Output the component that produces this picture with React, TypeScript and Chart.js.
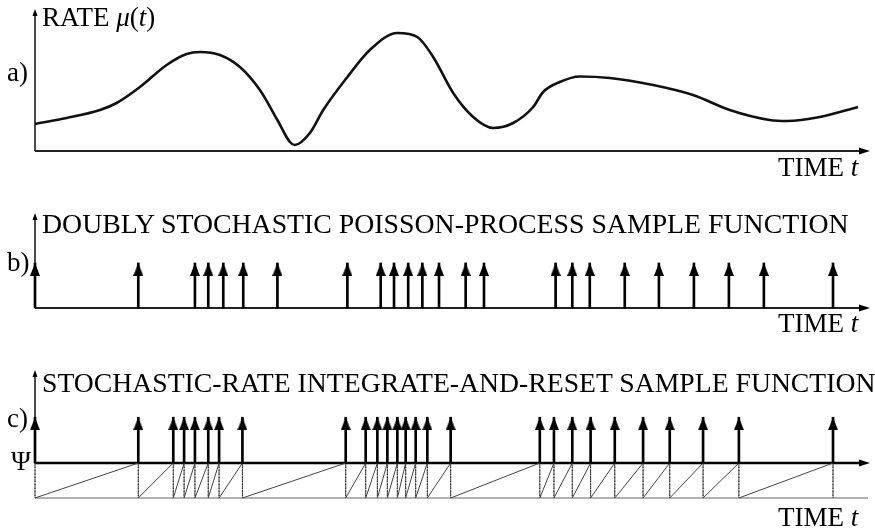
import React, { useEffect, useRef } from 'react';
import { Chart, registerables } from 'chart.js';

Chart.register(...registerables);

// ---------------- data ----------------
const T_MIN = 0;
const T_MAX = 10;

// a) rate mu(t)
const RATE_MAX = 14.2;
const rateTimes = [0, 0.38, 0.78, 0.98, 1.26, 1.58, 1.82, 1.98, 2.22, 2.46, 2.7, 2.91, 3.06, 3.12, 3.3, 3.46, 3.75, 4.02, 4.35, 4.59, 4.78, 5.02, 5.26, 5.5, 5.74, 5.98, 6.1, 6.3, 6.54, 6.9, 7.42, 7.9, 8.34, 8.82, 9.03, 9.42, 9.88];
const rateValues = [2.7, 3.3, 4.1, 4.8, 6.4, 8.6, 9.7, 9.9, 9.6, 8.4, 6.1, 3.1, 0.9, 0.6, 1.8, 4.1, 7.4, 10.1, 11.8, 11.4, 9.4, 5.8, 3.4, 2.3, 2.8, 4.4, 5.9, 6.9, 7.45, 7.3, 6.6, 5.6, 4.1, 3.1, 3.0, 3.4, 4.4];

// b) doubly stochastic Poisson process event times
const poissonTimes = [0, 1.24, 1.92, 2.08, 2.26, 2.5, 2.91, 3.75, 4.15, 4.31, 4.48, 4.65, 4.85, 5.17, 5.39, 6.25, 6.45, 6.66, 7.08, 7.49, 7.91, 8.33, 8.75, 9.58];
const POISSON_MARK = 1;
const POISSON_Y_MAX = 2.11;

// c) integrate-and-reset event times
const resetTimes = [0, 1.24, 1.66, 1.79, 1.92, 2.08, 2.21, 2.49, 3.73, 3.97, 4.11, 4.23, 4.35, 4.45, 4.57, 4.71, 4.99, 6.06, 6.23, 6.45, 6.67, 6.96, 7.3, 7.62, 8.02, 8.45, 9.58];
const PSI = 1;
const RESET_MARK = 2.31;
const RESET_Y_MAX = 3.66;

// ---------------- drawing helpers ----------------
const FONT = '"Liberation Serif", "Times New Roman", serif';

function arrowHeadImage(w: number, h: number) {
  const c = document.createElement('canvas');
  c.width = w;
  c.height = h * 2;
  const g = c.getContext('2d')!;
  g.fillStyle = '#000';
  g.beginPath();
  g.moveTo(w / 2, h);
  g.lineTo(w, 2 * h);
  g.lineTo(0, 2 * h);
  g.closePath();
  g.fill();
  return c;
}

function arrowUp(ctx: CanvasRenderingContext2D, x: number, y: number, len: number, half: number) {
  ctx.beginPath();
  ctx.moveTo(x, y);
  ctx.lineTo(x + half, y + len);
  ctx.lineTo(x - half, y + len);
  ctx.closePath();
  ctx.fill();
}
function arrowRight(ctx: CanvasRenderingContext2D, x: number, y: number, len: number, half: number) {
  ctx.beginPath();
  ctx.moveTo(x, y);
  ctx.lineTo(x - len, y - half);
  ctx.lineTo(x - len, y + half);
  ctx.closePath();
  ctx.fill();
}
function seg(ctx: CanvasRenderingContext2D, x1: number, y1: number, x2: number, y2: number) {
  ctx.beginPath();
  ctx.moveTo(x1, y1);
  ctx.lineTo(x2, y2);
  ctx.stroke();
}

const axesPlugin = {
  id: 'figAxes',
  beforeDatasetsDraw(chart: any, _args: any, opts: any) {
    const { ctx, chartArea, scales } = chart;
    const xs = scales.x;
    const ys = scales.y;
    const left = xs.getPixelForValue(T_MIN);
    const right = xs.getPixelForValue(T_MAX);
    ctx.save();
    ctx.fillStyle = '#000';
    if (opts.kind === 'c') {
      const yPsi = ys.getPixelForValue(PSI);
      const y0 = ys.getPixelForValue(0);
      ctx.strokeStyle = '#666';
      ctx.lineWidth = 1.2;
      seg(ctx, left, y0, right, y0);
      ctx.strokeStyle = '#000';
      ctx.lineWidth = 1.4;
      seg(ctx, left, yPsi, left, chartArea.top + 6);
      arrowUp(ctx, left, chartArea.top, 7, 2.5);
      ctx.lineWidth = 2.4;
      seg(ctx, left, yPsi, right - 8, yPsi);
      arrowRight(ctx, right + 2, yPsi, 11, 3.5);
    } else {
      const y0 = ys.getPixelForValue(0);
      ctx.strokeStyle = '#000';
      ctx.lineWidth = 1.4;
      seg(ctx, left, y0, left, chartArea.top + 6);
      arrowUp(ctx, left, chartArea.top, 7, 2.5);
      ctx.strokeStyle = '#222';
      ctx.lineWidth = 2;
      seg(ctx, left, y0, right - 8, y0);
      arrowRight(ctx, right + 2, y0, 11, 3.5);
    }
    ctx.restore();
  },
};

function baseOptions(kind: string, yMax: number, pad: any) {
  return {
    responsive: false,
    maintainAspectRatio: false,
    animation: false as const,
    events: [] as any[],
    layout: { padding: pad },
    plugins: {
      legend: { display: false },
      tooltip: { enabled: false },
      figAxes: { kind },
    },
    scales: {
      x: { type: 'linear' as const, min: T_MIN, max: T_MAX, display: false, offset: false },
      y: { type: 'linear' as const, min: 0, max: yMax, display: false },
    },
  };
}

function spikeDatasets(times: number[], from: number, to: number, head: HTMLCanvasElement) {
  return [
    {
      type: 'scatter' as const,
      data: times.map((t) => ({ x: t, y: to })),
      pointStyle: head,
      pointRadius: 5,
      showLine: false,
      clip: false as any,
      order: 0,
    },
    {
      type: 'bar' as const,
      data: times.map((t) => ({ x: t, y: [from, to] })),
      backgroundColor: '#000',
      borderWidth: 0,
      barThickness: 2,
      clip: false as any,
      order: 1,
    },
  ];
}

const Label = ({ x, base, size = 27, children }: any) => (
  <div
    style={{
      position: 'absolute',
      left: x,
      top: base - 0.8375 * size,
      fontSize: size,
      lineHeight: `${size}px`,
      whiteSpace: 'nowrap',
      color: '#000',
    }}
  >
    {children}
  </div>
);

export default function App() {
  const aRef = useRef<HTMLCanvasElement>(null);
  const bRef = useRef<HTMLCanvasElement>(null);
  const cRef = useRef<HTMLCanvasElement>(null);

  useEffect(() => {
    const head = arrowHeadImage(10, 13);
    const charts: Chart[] = [];

    charts.push(
      new Chart(aRef.current!, {
        type: 'line',
        data: {
          datasets: [
            {
              data: rateTimes.map((t, i) => ({ x: t, y: rateValues[i] })),
              borderColor: '#111',
              borderWidth: 2.6,
              pointRadius: 0,
              tension: 0.4,
              cubicInterpolationMode: 'monotone',
              fill: false,
            },
          ],
        },
        options: baseOptions('a', RATE_MAX, { left: 35, right: 7, top: 9, bottom: 44 }) as any,
        plugins: [axesPlugin],
      })
    );

    charts.push(
      new Chart(bRef.current!, {
        type: 'bar',
        data: { datasets: spikeDatasets(poissonTimes, 0, POISSON_MARK, head) as any },
        options: baseOptions('b', POISSON_Y_MAX, { left: 35, right: 7, top: 13, bottom: 12 }) as any,
        plugins: [axesPlugin],
      })
    );

    const saw: { x: number; y: number }[] = [];
    resetTimes.forEach((t) => {
      saw.push({ x: t, y: PSI });
      saw.push({ x: t, y: 0 });
    });

    charts.push(
      new Chart(cRef.current!, {
        type: 'bar',
        data: {
          datasets: [
            ...spikeDatasets(resetTimes, PSI, RESET_MARK, head),
            {
              type: 'line' as const,
              data: saw,
              borderColor: '#444',
              borderWidth: 1,
              pointRadius: 0,
              tension: 0,
              clip: false as any,
              order: 2,
              segment: {
                borderDash: (c: any) => (c.p0.parsed.x === c.p1.parsed.x ? [1.5, 2] : undefined),
                borderColor: (c: any) => (c.p0.parsed.x === c.p1.parsed.x ? '#333' : '#444'),
              },
            },
          ] as any,
        },
        options: baseOptions('c', RESET_Y_MAX, { left: 35, right: 7, top: 10, bottom: 12 }) as any,
        plugins: [axesPlugin],
      })
    );

    return () => charts.forEach((c) => c.destroy());
  }, []);

  return (
    <div
      style={{
        position: 'absolute',
        left: 0,
        top: 0,
        width: 875,
        height: 531,
        background: '#fff',
        overflow: 'hidden',
        fontFamily: FONT,
      }}
    >
      <canvas ref={aRef} width={875} height={195} style={{ position: 'absolute', left: 0, top: 0 }} />
      <canvas ref={bRef} width={875} height={120} style={{ position: 'absolute', left: 0, top: 200 }} />
      <canvas ref={cRef} width={875} height={150} style={{ position: 'absolute', left: 0, top: 360 }} />

      <Label x={42} base={27}>
        RATE <i>μ</i>(<i>t</i>)
      </Label>
      <Label x={7} base={82}>a)</Label>
      <Label x={778} base={177}>
        TIME <i>t</i>
      </Label>

      <Label x={42} base={233} size={27.8}>DOUBLY STOCHASTIC POISSON-PROCESS SAMPLE FUNCTION</Label>
      <Label x={7} base={272}>b)</Label>
      <Label x={778} base={333}>
        TIME <i>t</i>
      </Label>

      <Label x={42} base={392} size={27.7}>STOCHASTIC-RATE INTEGRATE-AND-RESET SAMPLE FUNCTION</Label>
      <Label x={7} base={428}>c)</Label>
      <Label x={11} base={471}>Ψ</Label>
      <Label x={778} base={527}>
        TIME <i>t</i>
      </Label>
    </div>
  );
}
